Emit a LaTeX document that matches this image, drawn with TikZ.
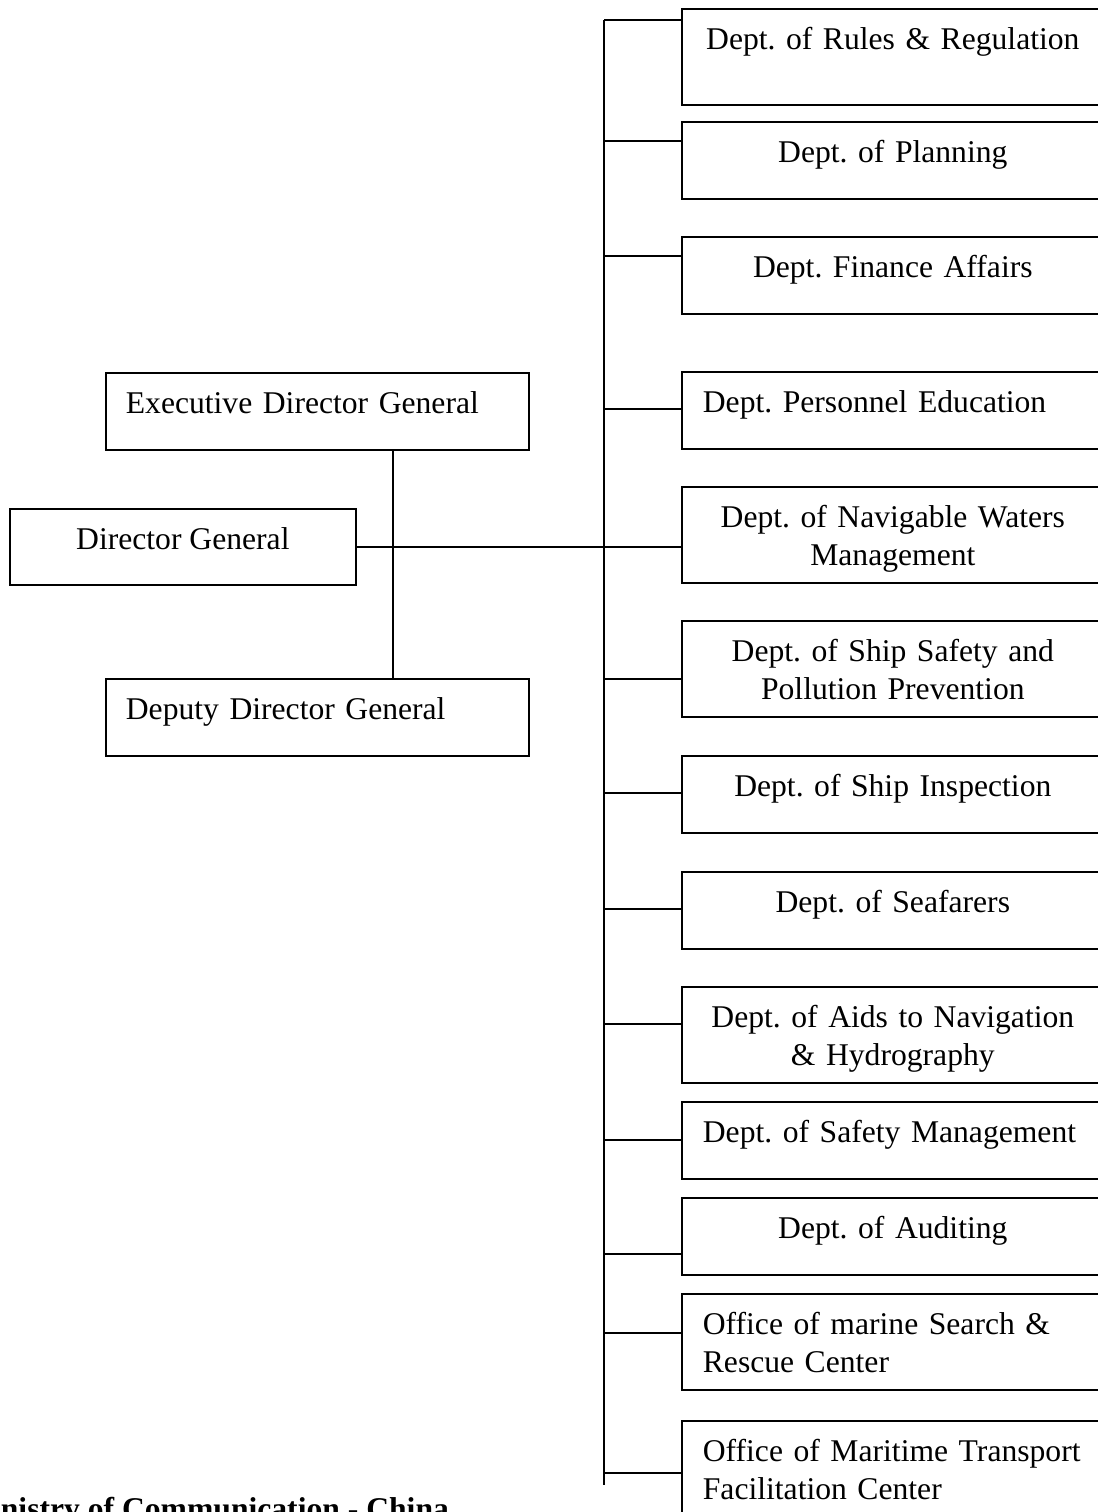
\documentclass[tikz,border=0pt]{standalone}
\usepackage{fontspec}
\setmainfont{Liberation Serif}
\frenchspacing
\begin{document}
\begin{tikzpicture}[x=0.02cm, y=-0.02cm, line width=1pt,
    every node/.style={font=\fontsize{18}{21.6}\selectfont, inner ysep=0pt, text height=0.82cm},
    dept/.style={draw, rectangle, anchor=north west, inner xsep=0.22cm, text width=8cm, align=center, text depth=0.72cm},
    tall/.style={text depth=1.1cm},
    flush/.style={align=left, inner xsep=0.42cm},
    head/.style={draw, rectangle, anchor=north west, inner xsep=0.4cm, text width=7.66cm, align=left, text depth=0.72cm}]
    \useasboundingbox (0,0) rectangle (1098,1512);
    \clip (0,0) rectangle (1098,1512);
    \node[head] (EDG) at (105,372) {Executive Director General};
    \node[draw, rectangle, anchor=north west, inner xsep=0pt, minimum width=6.92cm, text depth=0.7cm] (DG) at (9,508) {Director General};
    \node[head] (DDG) at (105,678) {Deputy Director General};

    \node[dept, tall] (D1) at (681,8) {Dept. of Rules \& Regulation};
    \node[dept] (D2) at (681,121) {Dept. of Planning};
    \node[dept] (D3) at (681,236) {Dept. Finance Affairs};
    \node[dept, flush] (D4) at (681,371) {Dept. Personnel Education};
    \node[dept, tall] (D5) at (681,486) {Dept. of Navigable Waters\\Management};
    \node[dept, tall] (D6) at (681,620) {Dept. of Ship Safety and\\Pollution Prevention};
    \node[dept] (D7) at (681,755) {Dept. of Ship Inspection};
    \node[dept] (D8) at (681,871) {Dept. of Seafarers};
    \node[dept, tall] (D9) at (681,986) {Dept. of Aids to Navigation\\\& Hydrography};
    \node[dept, flush] (D10) at (681,1101) {Dept. of Safety Management};
    \node[dept] (D11) at (681,1197) {Dept. of Auditing};
    \node[dept, tall, flush] (D12) at (681,1293) {Office of marine Search \&\\Rescue Center};
    \node[dept, tall, flush] (D13) at (681,1420) {Office of Maritime Transport\\Facilitation Center};

    \node[anchor=base west, inner xsep=0pt, text height=, font=\fontsize{18}{21.6}\selectfont\bfseries] (MC) at (0,1519) {nistry of Communication - China};

    \coordinate (T1) at (604,20);
    \coordinate (T2) at (604,1485);
    \draw (T1) -- (T2);
    \foreach \n/\dy in {D1/12, D2/20, D3/20, D4/38, D6/59, D7/38, D8/38, D9/38, D10/39, D11/57, D12/40, D13/53}
        \draw (\n.north west) ++(0,\dy) -- ++(-77,0);
    \draw (DG.east) -- (DG.east -| D5.west);
    \draw (EDG.south west) ++(288,0) coordinate (V) -- (V |- DDG.north);
\end{tikzpicture}
\end{document}
